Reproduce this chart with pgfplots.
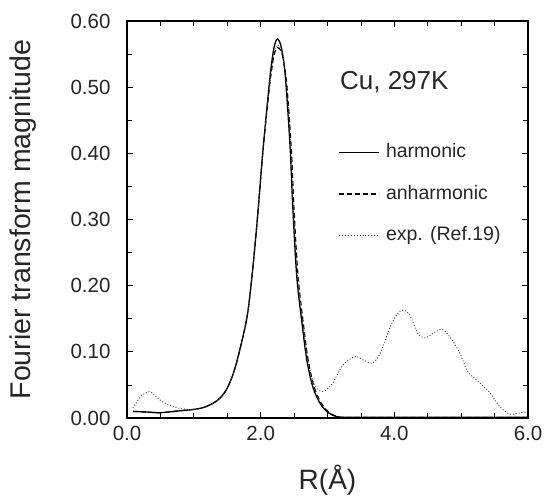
\documentclass[border=0pt]{standalone}
\usepackage{fontspec}
\setmainfont{Liberation Sans}
\usepackage{pgfplots}
\pgfplotsset{compat=1.18}
\begin{document}
\begin{tikzpicture}
\useasboundingbox (-127pt,-77pt) rectangle (418pt,418pt);
\begin{axis}[
  at={(0pt,0pt)}, anchor=south west,
  scale only axis, width=401pt, height=397pt,
  xmin=0, xmax=6, ymin=0, ymax=0.6,
  xtick={0,2,4,6}, minor x tick num=3,
  ytick={0,0.1,0.2,0.3,0.4,0.5,0.6}, minor y tick num=1,
  tick align=inside, major tick length=6pt, minor tick length=5pt,
  every tick/.style={black, line width=0.8pt},
  axis line style={line width=1.3pt},
  /pgf/number format/assume math mode=true,
  xticklabel style={/pgf/number format/fixed, /pgf/number format/fixed zerofill, /pgf/number format/precision=1, yshift=-5pt},
  yticklabel style={/pgf/number format/fixed, /pgf/number format/fixed zerofill, /pgf/number format/precision=2, xshift=-13pt},
  tick label style={font=\fontsize{20.5}{24}\selectfont, color=black!85},
  every axis x label/.style={at={(rel axis cs:0.5,0)}, yshift=-62pt, anchor=center, font=\fontsize{28}{32}\selectfont, color=black!85},
  every axis y label/.style={at={(rel axis cs:0,0.5)}, xshift=-104pt, rotate=90, anchor=center, font=\fontsize{28.5}{32}\selectfont, color=black!85},
  xlabel={R(Å)},
  ylabel={Fourier transform magnitude},
  legend image code/.code={\draw[#1] (0pt,0pt) -- (40pt,0pt); \path (44pt,0pt);},
  legend cell align=left,
  legend style={at={(rel axis cs:0.52,0.702)}, anchor=north west, draw=none, fill=none,
    font=\fontsize{19.5}{22}\selectfont, row sep=19.5pt,
    nodes={inner sep=2pt, text height=14pt, text depth=4pt, text=black!85}},
]
\addplot[black, line width=1.3pt, smooth, tension=0.5] coordinates {
(0.09,0.010) (0.3,0.009) (0.5,0.008) (0.8,0.011) (1.0,0.013) (1.15,0.016)
(1.3,0.023) (1.4,0.031) (1.5,0.045) (1.6,0.070) (1.7,0.108) (1.8,0.155)
(1.87,0.214) (1.95,0.300) (2.03,0.400) (2.10,0.475) (2.15,0.525) (2.20,0.560)
(2.25,0.573) (2.31,0.560) (2.37,0.515) (2.44,0.410) (2.48,0.320) (2.54,0.214)
(2.62,0.142) (2.69,0.088) (2.78,0.047) (2.89,0.022) (3.01,0.008) (3.14,0.002)
(3.3,0.001) (4.0,0.001) (5.0,0.001) (6.0,0.001)};
\addlegendentry{harmonic}
\addplot[black, line width=1.1pt, dash pattern=on 5pt off 3pt, smooth, tension=0.5] coordinates {
(0.09,0.010) (0.3,0.009) (0.5,0.008) (0.8,0.011) (1.0,0.013) (1.15,0.016)
(1.3,0.023) (1.4,0.031) (1.5,0.045) (1.6,0.070) (1.7,0.108) (1.8,0.155)
(1.87,0.214) (1.95,0.300) (2.03,0.398) (2.10,0.470) (2.15,0.515) (2.20,0.548)
(2.25,0.560) (2.32,0.550) (2.39,0.505) (2.46,0.405) (2.50,0.315) (2.56,0.214)
(2.64,0.142) (2.71,0.088) (2.80,0.047) (2.91,0.022) (3.03,0.008) (3.16,0.002)
(3.3,0.001) (4.0,0.001) (5.0,0.001) (6.0,0.001)};
\addlegendentry{anharmonic}
\addplot[black!80, line width=0.9pt, dotted, smooth, tension=0.5] coordinates {
(0.09,0.015) (0.2,0.032) (0.34,0.040) (0.45,0.031) (0.54,0.024) (0.65,0.019)
(0.76,0.015) (0.9,0.013) (1.0,0.013) (1.15,0.016) (1.3,0.023) (1.4,0.031)
(1.5,0.045) (1.6,0.070) (1.7,0.108) (1.8,0.155) (1.87,0.214) (1.95,0.300)
(2.03,0.398) (2.10,0.472) (2.15,0.518) (2.20,0.552) (2.25,0.564) (2.32,0.552)
(2.39,0.502) (2.45,0.405) (2.49,0.315) (2.55,0.214) (2.63,0.145) (2.70,0.092)
(2.78,0.056) (2.85,0.044) (2.93,0.040) (3.00,0.044) (3.08,0.053) (3.23,0.080)
(3.41,0.093) (3.53,0.088) (3.67,0.083) (3.79,0.098) (3.94,0.138) (4.05,0.158)
(4.13,0.163) (4.23,0.156) (4.35,0.128) (4.46,0.121) (4.58,0.128) (4.71,0.134)
(4.83,0.123) (4.98,0.098) (5.10,0.070) (5.28,0.053) (5.43,0.038) (5.58,0.017)
(5.73,0.006) (5.88,0.008) (5.99,0.009)};
\addlegendentry{exp. (Ref.19)}
\node[anchor=west, font=\fontsize{26}{30}\selectfont, text=black!85, inner sep=0pt] at (rel axis cs:0.531,0.846) {Cu, 297K};
\end{axis}
\end{tikzpicture}
\end{document}
